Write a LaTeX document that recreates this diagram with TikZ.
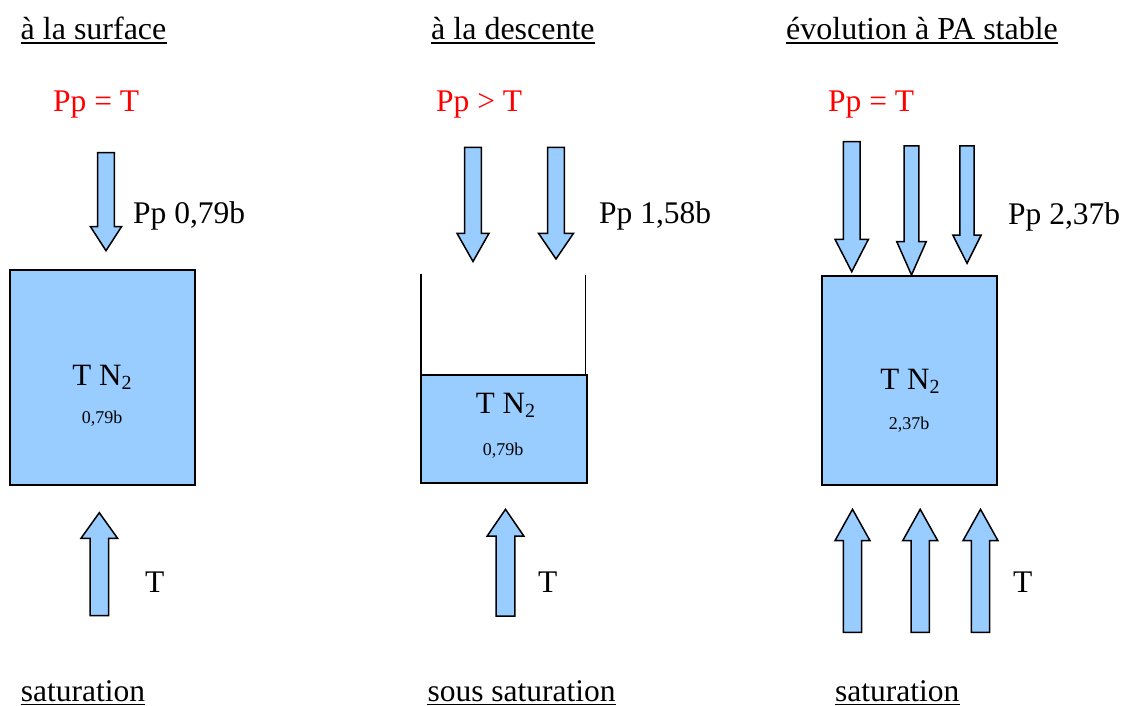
\documentclass[tikz,border=0pt]{standalone}
\usepackage{fontspec}
\setmainfont{Liberation Serif}
\definecolor{blk}{HTML}{99CCFF}
\tikzset{
  txt/.style={inner sep=0pt, anchor=base west, font=\fontsize{31.5}{36}\selectfont},
  ttl/.style={txt, font=\fontsize{32}{36}\selectfont},
  redtxt/.style={txt, text=red},
  boxtxt/.style={inner sep=0pt, anchor=base, font=\fontsize{31}{36}\selectfont},
  smalltxt/.style={inner sep=0pt, anchor=base, font=\fontsize{18}{20}\selectfont},
  tank/.style={draw=black, fill=blk, line width=2pt, inner sep=0pt},
  blockarrow/.style={draw=black, fill=blk, line width=1.5pt, line join=miter},
  wall/.style={draw=black, line width=1.3pt},
  uline/.style={draw=black, line width=1.5pt},
}
% #1 cx, #2 tail end, #3 head base, #4 tip, #5 shaft half width, #6 head half width
\newcommand{\BlkArrow}[6]{%
  \draw[blockarrow] (#1-#5,#2) -- (#1+#5,#2) -- (#1+#5,#3) -- (#1+#6,#3) -- (#1,#4) -- (#1-#6,#3) -- (#1-#5,#3) -- cycle;}
\newcommand{\TNtwo}{T N\raisebox{-0.3ex}{\fontsize{20}{22}\selectfont 2}}
\begin{document}
\begin{tikzpicture}[x=1pt,y=-1pt]
\useasboundingbox (0,0) rectangle (1132,706);

% titles
\node[ttl] (t1) at (20.5,40) {à la surface};
\node[ttl] (t2) at (431,40) {à la descente};
\node[ttl] (t3) at (786,40) {évolution à PA stable};
\foreach \n in {t1,t2,t3}
  \draw[uline] ([yshift=-3pt]\n.base west) -- ([yshift=-3pt]\n.base east);

% red relations
\node[redtxt] (r1) at (53,112) {Pp = T};
\node[redtxt] (r2) at (436,112) {Pp > T};
\node[redtxt] (r3) at (828,112) {Pp = T};

% pressure labels
\node[txt] (p1) at (133,223) {Pp 0,79b};
\node[txt] (p2) at (599,223) {Pp 1,58b};
\node[txt] (p3) at (1008,224) {Pp 2,37b};

% panel 1
\BlkArrow{106}{152.7}{226.7}{250.7}{8.3}{15.5}
\node[tank, minimum width=185pt, minimum height=215pt] (box1) at (102.5,377.5) {};
\node[boxtxt] (n1) at (102,385) {\TNtwo};
\node[smalltxt] (v1) at (102,423) {0,79b};
\BlkArrow{99.3}{615.7}{538.3}{512.7}{9.3}{18.3}
\node[txt] (T1) at (145,592) {T};

% panel 2
\BlkArrow{473}{147.3}{233.3}{261.5}{8.3}{16}
\BlkArrow{556}{147.3}{233.3}{259}{8.3}{17.5}
\node[tank, minimum width=166pt, minimum height=107.7pt] (box2) at (503.7,428.85) {};
\coordinate (w1) at (421,273.5);
\coordinate (w2) at (585.5,275);
\draw[wall] (w1) -- (w1 |- box2.north);
\draw[wall] (w2) -- (w2 |- box2.north);
\node[boxtxt] (n2) at (505.5,413.3) {\TNtwo};
\node[smalltxt] (v2) at (503,455) {0,79b};
\BlkArrow{505.5}{616}{536}{509.3}{9.3}{18.3}
\node[txt] (T2) at (538,592) {T};

% panel 3
\BlkArrow{851.7}{141.7}{239.3}{271.7}{8.3}{16.7}
\BlkArrow{911.5}{146}{241.7}{275}{7.4}{14.7}
\BlkArrow{967}{146}{235}{263.3}{7.2}{14.2}
\node[tank, minimum width=175pt, minimum height=209.3pt] (box3) at (909.8,380.35) {};
\node[boxtxt] (n3) at (910,389.3) {\TNtwo};
\node[smalltxt] (v3) at (909,429.3) {2,37b};
\BlkArrow{852.5}{632.3}{540.7}{509.3}{9.2}{17.5}
\BlkArrow{920.2}{632.3}{540.7}{509.3}{9.2}{17.5}
\BlkArrow{980.5}{632.3}{540.7}{509.3}{9.2}{17.5}
\node[txt] (T3) at (1013,592) {T};

% bottom labels
\node[txt] (b1) at (20.7,701) {saturation};
\node[txt] (b2) at (427.3,701) {sous saturation};
\node[txt] (b3) at (835,701) {saturation};
\foreach \n in {b1,b2,b3}
  \draw[uline] ([yshift=-3.3pt]\n.base west) -- ([yshift=-3.3pt]\n.base east);
\end{tikzpicture}
\end{document}
